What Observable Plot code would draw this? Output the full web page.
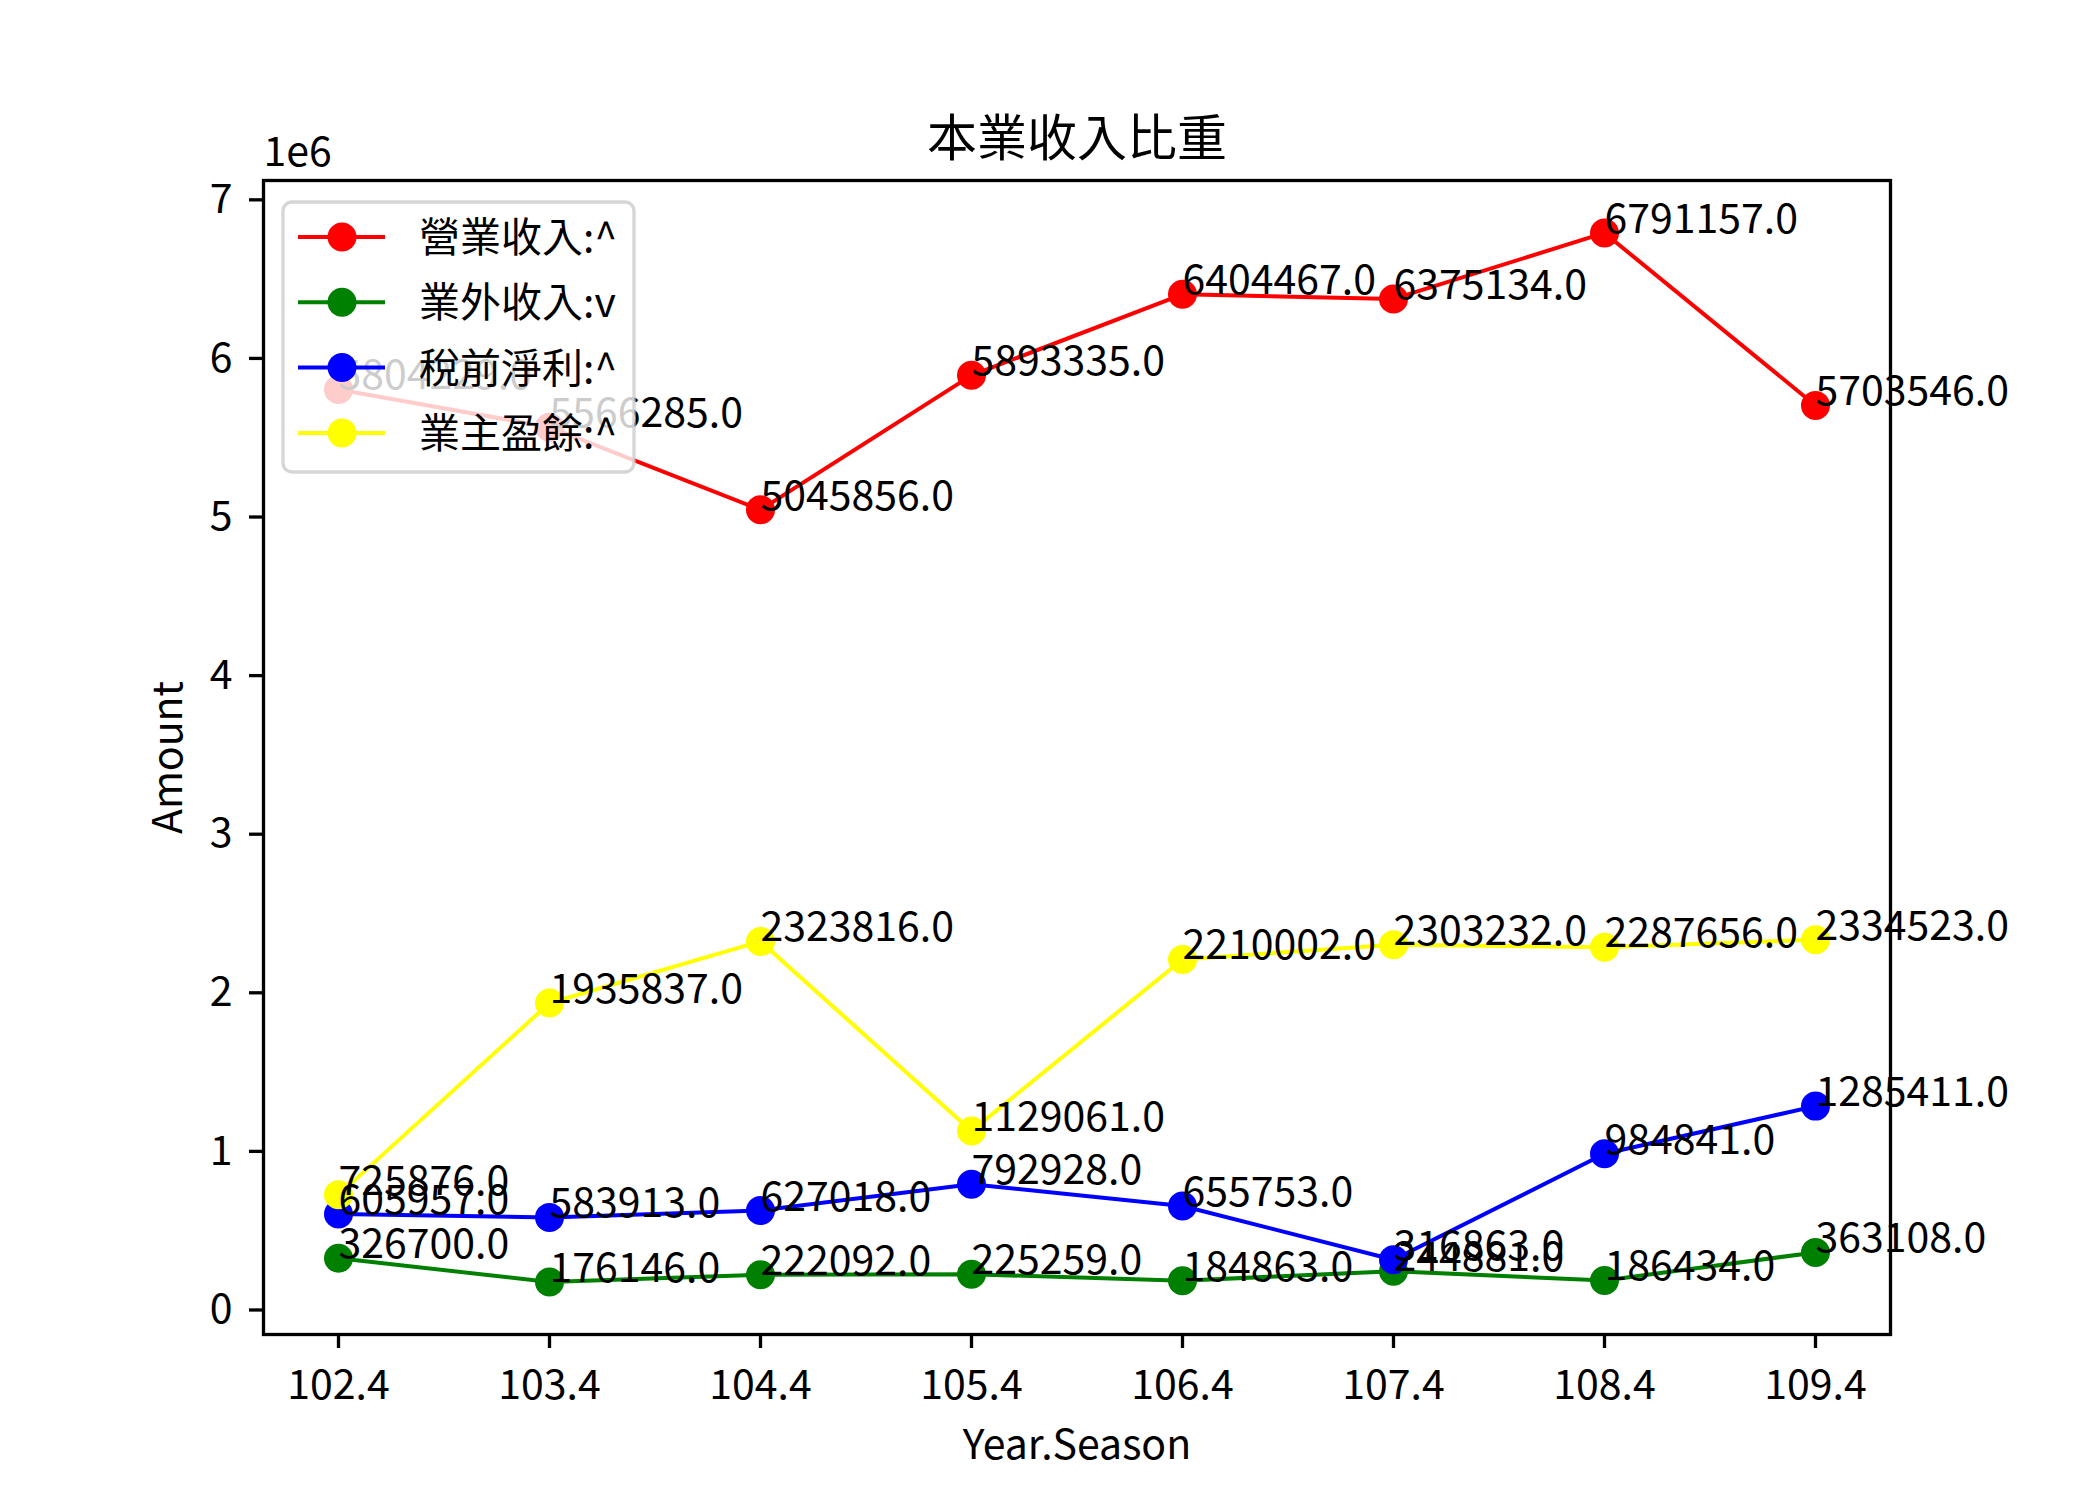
<!DOCTYPE html>
<html>
<head>
<meta charset="utf-8">
<script src="https://cdn.jsdelivr.net/npm/d3@7"></script>
<script src="https://cdn.jsdelivr.net/npm/@observablehq/plot@0.6"></script>
<style>
  html, body { margin: 0; padding: 0; background: white; }
  #chart { position: relative; width: 2100px; height: 1500px; }
  #chart svg { display: block; }
</style>
</head>
<body>
<div id="chart"></div>
<script>
// ---- data ----
const seasons = ["102.4", "103.4", "104.4", "105.4", "106.4", "107.4", "108.4", "109.4"];
const seriesNames = ["營業收入:^", "業外收入:v", "稅前淨利:^", "業主盈餘:^"];
const seriesColors = ["red", "green", "blue", "yellow"];
const operatingRevenue = [5804229, 5566285, 5045856, 5893335, 6404467, 6375134, 6791157, 5703546];
const nonOperatingIncome = [326700, 176146, 222092, 225259, 184863, 244881, 186434, 363108];
const preTaxIncome = [605957, 583913, 627018, 792928, 655753, 316863, 984841, 1285411];
const ownerEarnings = [725876, 1935837, 2323816, 1129061, 2210002, 2303232, 2287656, 2334523];
const yTicks = [0, 1e6, 2e6, 3e6, 4e6, 5e6, 6e6, 7e6];
const titleText = "本業收入比重";
const xLabelText = "Year.Season";
const yLabelText = "Amount";
const offsetText = "1e6";

const seriesValues = [operatingRevenue, nonOperatingIncome, preTaxIncome, ownerEarnings];
const rows = seriesNames.flatMap((name, i) =>
  seriesValues[i].map((v, j) => ({series: name, season: seasons[j], value: v, color: seriesColors[i]}))
);

// matplotlib-like 5% margins
const all = rows.map(d => d.value);
const vmin = d3.min(all), vmax = d3.max(all);
const pad = (vmax - vmin) * 0.05;

const font = "'Noto Sans CJK TC', 'Noto Sans', sans-serif";

const lineMarks = seriesNames.flatMap((name, i) => {
  const data = rows.filter(d => d.series === name);
  return [
    Plot.line(data, {x: "season", y: "value", stroke: seriesColors[i], strokeWidth: 4}),
    Plot.dot(data, {x: "season", y: "value", r: 14.5, fill: seriesColors[i], stroke: "none"})
  ];
});

const chart = Plot.plot({
  width: 2100,
  height: 1500,
  marginLeft: 263,
  marginRight: 210,
  marginTop: 180,
  marginBottom: 166,
  style: {fontFamily: font, fontSize: "41px", background: "white", color: "black"},
  x: {type: "point", domain: seasons, padding: 0.35},
  y: {domain: [vmin - pad, vmax + pad]},
  marks: [
    ...lineMarks,
    Plot.text(rows, {
      x: "season", y: "value", text: d => d.value.toFixed(1),
      textAnchor: "start", lineAnchor: "bottom", fill: "black", fontSize: 41
    }),
    Plot.frame({stroke: "black", strokeWidth: 3.3}),
    Plot.axisX({tickSize: 14, tickPadding: 21, fontSize: 41, label: null, stroke: "black", strokeWidth: 3.3}),
    Plot.axisY({ticks: yTicks, tickFormat: d => d / 1e6, tickSize: 14, tickPadding: 17, fontSize: 41, label: null, stroke: "black", strokeWidth: 3.3}),
    Plot.text([titleText], {frameAnchor: "top", dy: -25, textAnchor: "middle", lineAnchor: "bottom", fontSize: 50, fill: "black"}),
    Plot.text([xLabelText], {frameAnchor: "bottom", dy: 124, textAnchor: "middle", lineAnchor: "bottom", fontSize: 41, fill: "black"}),
    Plot.text([yLabelText], {frameAnchor: "left", dx: -95, rotate: -90, textAnchor: "middle", lineAnchor: "middle", fontSize: 41, fill: "black"}),
    Plot.text([offsetText], {frameAnchor: "top-left", dy: -15, textAnchor: "start", lineAnchor: "bottom", fontSize: 41, fill: "black"})
  ]
});

const container = document.getElementById("chart");
container.appendChild(chart);

// ---- legend overlay (semi-transparent like matplotlib) ----
const legend = d3.select(container).append("svg")
  .attr("width", 2100).attr("height", 1500)
  .style("position", "absolute").style("left", "0px").style("top", "0px")
  .style("pointer-events", "none")
  .style("font-family", font);

legend.append("rect")
  .attr("x", 283).attr("y", 202).attr("width", 351).attr("height", 270)
  .attr("rx", 9).attr("ry", 9)
  .attr("fill", "white").attr("fill-opacity", 0.8)
  .attr("stroke", "#cccccc").attr("stroke-opacity", 0.8).attr("stroke-width", 3.3);

seriesNames.forEach((name, i) => {
  const cy = 237 + i * 65.3;
  const g = legend.append("g");
  g.append("line").attr("x1", 298).attr("x2", 385).attr("y1", cy).attr("y2", cy)
    .attr("stroke", seriesColors[i]).attr("stroke-width", 4);
  g.append("circle").attr("cx", 342).attr("cy", cy).attr("r", 14.5).attr("fill", seriesColors[i]);
  g.append("text").attr("x", 419).attr("y", cy + 15).attr("font-size", 41).attr("fill", "black").text(name);
});
</script>
</body>
</html>
